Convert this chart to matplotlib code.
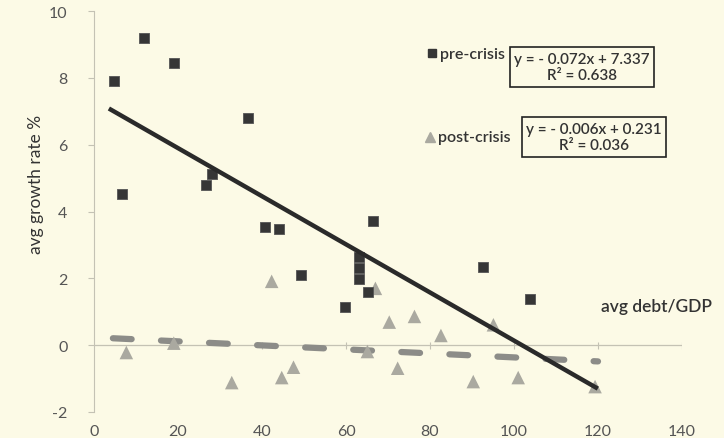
import matplotlib
matplotlib.use("Agg")
import numpy as np
import matplotlib.pyplot as plt
from matplotlib.lines import Line2D

# pre-crisis: avg debt/GDP vs avg growth rate %
pre_x = [4.8, 11.8, 19.0, 36.6, 28.0, 26.7, 6.7, 40.7, 44.0, 49.3,
         59.8, 63.2, 63.2, 63.2, 65.2, 66.5, 92.6, 103.8]
pre_y = [7.92, 9.2, 8.43, 6.79, 5.13, 4.78, 4.53, 3.54, 3.48, 2.11,
         1.14, 2.64, 2.31, 1.99, 1.58, 3.71, 2.34, 1.39]

# post-crisis
post_x = [7.7, 19.0, 32.8, 42.3, 44.7, 47.5, 65.1, 67.0, 70.3, 72.3,
          76.3, 82.6, 90.3, 95.1, 101.0, 119.3]
post_y = [-0.22, 0.06, -1.12, 1.91, -0.97, -0.66, -0.19, 1.70, 0.69, -0.69,
          0.86, 0.29, -1.09, 0.61, -0.97, -1.24]

# trend lines as printed on the chart
pre_slope, pre_icept, pre_r2 = -0.072, 7.337, 0.638
post_slope, post_icept, post_r2 = -0.006, 0.231, 0.036
trend_x = [4.0, 119.5]

xticks = [0, 20, 40, 60, 80, 100, 120, 140]
yticks = [-2, 0, 2, 4, 6, 8, 10]

BG = "#fcfae6"
FONT = ["Lato", "DejaVu Sans"]
plt.rcParams["font.family"] = FONT

fig = plt.figure(figsize=(7.24, 4.39), dpi=100, facecolor=BG)
ax = fig.add_axes([94 / 724, 1 - 413 / 439, (682 - 94) / 724, (413 - 12) / 439])
ax.set_facecolor(BG)
ax.set_xlim(0, 140)
ax.set_ylim(-2, 10)

for s in ["top", "right", "bottom"]:
    ax.spines[s].set_visible(False)
ax.spines["left"].set_color("#c4c2b4")
ax.spines["left"].set_linewidth(0.8)

ax.set_yticks(yticks)
ax.set_yticklabels([str(v) for v in yticks])
ax.set_xticks(xticks)
ax.set_xticklabels([str(v) for v in xticks])
ax.tick_params(axis="y", length=4, width=0.8, color="#c4c2b4",
               labelsize=11.5, labelcolor="#555555", pad=15)
ax.tick_params(axis="x", length=0, labelsize=11.5, labelcolor="#555555", pad=9)

# horizontal axis drawn at y = 0 with crossing ticks
ax.axhline(0, color="#c4c2b4", lw=0.9, zorder=1)
ax.vlines(xticks[1:], -0.1, 0.1, color="#c4c2b4", lw=0.8, zorder=1)

tx = np.array(trend_x)
ax.plot(tx + 0.5, post_slope * tx + post_icept, color="#8c8c88", lw=4.5,
        dashes=(3.0, 4.7), solid_capstyle="round", dash_capstyle="round", zorder=2)
ax.scatter(post_x, post_y, marker="^", s=95, color="#aaa9a0",
           edgecolors="none", zorder=3)
ax.scatter(pre_x, pre_y, marker="s", s=58, color="#363636",
           edgecolors="#555555", linewidths=0.6, zorder=4)
ax.plot(tx, pre_slope * tx + pre_icept, color="#2a2a2a", lw=3.2, zorder=5)

ax.set_ylabel("avg growth rate %", fontsize=12.5, color="#333333")
ax.yaxis.set_label_coords(-0.085, 0.57)
fig.text(601 / 724, 1 - 307 / 439, "avg debt/GDP", fontsize=12.5,
         color="#333333", va="center", ha="left", fontweight="semibold")

# legend with equation boxes
def fx(px):
    return px / 724

def fy(py):
    return 1 - py / 439

fig.add_artist(Line2D([fx(432)], [fy(54)], marker="s", markersize=5.5,
                      color="#363636", transform=fig.transFigure))
fig.text(fx(440), fy(55), "pre-crisis", fontsize=11.5, color="#333333",
         va="center", ha="left", fontweight="semibold")
fig.text(fx(582), fy(68),
         f"y = - {abs(pre_slope):.3f}x + {pre_icept:.3f}\nR² = {pre_r2:.3f}",
         fontsize=11, color="#333333", ha="center", va="center",
         linespacing=1.25, fontweight="semibold",
         bbox=dict(boxstyle="square,pad=0.28", facecolor=BG,
                   edgecolor="#222222", lw=1.2))

fig.add_artist(Line2D([fx(430)], [fy(138)], marker="^", markersize=6.5,
                      color="#aaa9a0", transform=fig.transFigure))
fig.text(fx(438), fy(138), "post-crisis", fontsize=11.5, color="#333333",
         va="center", ha="left", fontweight="semibold")
fig.text(fx(594), fy(138),
         f"y = - {abs(post_slope):.3f}x + {post_icept:.3f}\nR² = {post_r2:.3f}",
         fontsize=11, color="#333333", ha="center", va="center",
         linespacing=1.25, fontweight="semibold",
         bbox=dict(boxstyle="square,pad=0.28", facecolor=BG,
                   edgecolor="#222222", lw=1.2))

fig.savefig("out.png", dpi=100, facecolor=BG)
